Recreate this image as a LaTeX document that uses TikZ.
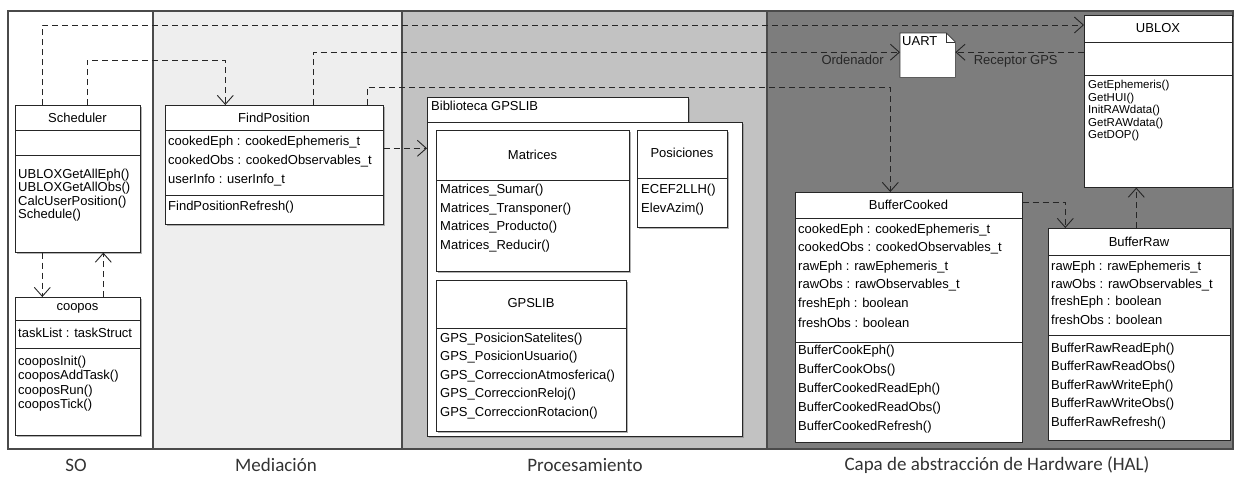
\documentclass[tikz,border=0pt]{standalone}
\usepackage{fontspec}
\setmainfont{Liberation Sans}
\newfontfamily\capfont{Carlito}
\usetikzlibrary{arrows.meta,shadows}

\definecolor{medfill}{HTML}{EEEEEE}
\definecolor{procfill}{HTML}{C2C2C2}
\definecolor{halfill}{HTML}{7D7D7D}
\definecolor{framecol}{HTML}{4A4A4A}

% one line per member, #1 prefix, #2 x, #3 first y, #4 pitch, #5 list
\newcommand{\members}[5]{%
  \foreach \t [count=\i] in {#5}
    \node[member] (#1\i) at (#2,{#3+#4*(\i-1)}) {\t};}

\begin{document}
\begin{tikzpicture}[x=1pt,y=-1pt,font=\fontsize{13}{15}\selectfont]
  \tikzstyle{classbox}=[draw=black!85,fill=white,anchor=north west,inner sep=0pt,line width=0.6pt,
    drop shadow={shadow xshift=1.5pt,shadow yshift=-1.5pt,opacity=.6}]
  \tikzstyle{member}=[anchor=west,inner sep=0pt]
  \tikzstyle{ctitle}=[inner sep=0pt]
  \tikzstyle{cline}=[draw=black!85,line width=0.6pt]
  \tikzstyle{dep}=[draw=black!85,dash pattern=on 6pt off 4pt,line width=0.7pt,
    -{Straight Barb[length=9pt,width=16pt,line width=0.9pt]}]
  \tikzstyle{lbl}=[inner sep=0pt,text=black!85]
  \tikzstyle{layer}=[font=\capfont\fontsize{19}{22}\selectfont,text=black!80]
  \useasboundingbox (0,0) rectangle (1235,480);

  % layers
  \fill[medfill] (153,11) rectangle (402,449);
  \fill[procfill] (402,11) rectangle (767,449);
  \fill[halfill] (767,11) rectangle (1233,449);
  \draw[framecol,line width=1.5pt] (8,11) rectangle (1233,449);
  \foreach \x in {153,402,767} \draw[framecol,line width=1.5pt] (\x,11) -- (\x,449);
  \node[layer] (so) at (76,465) {SO};
  \node[layer] (med) at (276,465) {Mediación};
  \node[layer] (proc) at (585,465) {Procesamiento};
  \node[layer] (hal) at (997,465) {Capa de abstracción de Hardware (HAL)};

  % SO
  \node[classbox,minimum width=125,minimum height=147] (sched) at (15,105) {};
  \draw[cline] (15,130) -- (140,130);
  \draw[cline] (15,155) -- (140,155);
  \node[ctitle] (schedt) at (77.5,117.5) {Scheduler};
  \members{schedm}{18}{175}{13.5}{UBLOXGetAllEph(),UBLOXGetAllObs(),CalcUserPosition(),Schedule()}

  \node[classbox,minimum width=125,minimum height=138] (coopos) at (15,297) {};
  \draw[cline] (15,320) -- (140,320);
  \draw[cline] (15,348) -- (140,348);
  \node[ctitle] (coopost) at (77.5,308.5) {coopos};
  \members{cooposa}{18}{333}{14}{taskList : taskStruct}
  \members{cooposm}{18}{362}{14.5}{cooposInit(),cooposAddTask(),cooposRun(),cooposTick()}

  % Mediacion
  \node[classbox,minimum width=218,minimum height=119] (findpos) at (165,105) {};
  \draw[cline] (165,130) -- (383,130);
  \draw[cline] (165,195) -- (383,195);
  \node[ctitle] (findpost) at (274,117.5) {FindPosition};
  \members{findposa}{168}{142}{19}{cookedEph : cookedEphemeris\_t,cookedObs : cookedObservables\_t,userInfo : userInfo\_t}
  \members{findposm}{168}{207}{19}{FindPositionRefresh()}

  % Procesamiento
  \node[classbox,minimum width=261,minimum height=25] (gpstab) at (427,97) {};
  \node[classbox,minimum width=315,minimum height=314] (gpspkg) at (427,122) {};
  \node[member] (gpstabt) at (431,106) {Biblioteca GPSLIB};

  \node[classbox,line width=0.9pt,minimum width=193,minimum height=141] (matrices) at (436,130) {};
  \draw[cline] (436,180) -- (629,180);
  \node[ctitle] (matricest) at (532.5,155) {Matrices};
  \members{matricesm}{440}{190}{18.7}{Matrices\_Sumar(),Matrices\_Transponer(),Matrices\_Producto(),Matrices\_Reducir()}

  \node[classbox,minimum width=90,minimum height=97] (posic) at (637,130) {};
  \draw[cline] (637,178) -- (727,178);
  \node[ctitle] (posict) at (682,153) {Posiciones};
  \members{posicm}{641}{190}{19}{ECEF2LLH(),ElevAzim()}

  \node[classbox,minimum width=190,minimum height=151] (gpslib) at (436,280) {};
  \draw[cline] (436,328) -- (626,328);
  \node[ctitle] (gpslibt) at (531,303) {GPSLIB};
  \members{gpslibm}{440}{339}{18.5}{GPS\_PosicionSatelites(),GPS\_PosicionUsuario(),GPS\_CorreccionAtmosferica(),GPS\_CorreccionReloj(),GPS\_CorreccionRotacion()}

  % HAL
  \node[anchor=north west,minimum width=55,minimum height=44,inner sep=0pt] (uart) at (900,33) {};
  \draw[fill=white,draw=black!80,line width=0.6pt] (uart.north west) -- ([xshift=-9pt]uart.north east)
    -- ([yshift=-9pt]uart.north east) -- (uart.south east) -- (uart.south west) -- cycle;
  \draw[draw=black!80,line width=0.5pt] ([xshift=-9pt]uart.north east) |- ([yshift=-9pt]uart.north east);
  \node[anchor=north west,inner sep=0pt] (uartt) at ([shift={(2pt,-3pt)}]uart.north west) {UART};

  \node[classbox,minimum width=148,minimum height=172] (ublox) at (1084,15) {};
  \draw[cline] (1084,42) -- (1232,42);
  \draw[cline] (1084,75) -- (1232,75);
  \node[ctitle] (ubloxt) at (1158,28.5) {UBLOX};
  \begin{scope}[font=\fontsize{11.5}{13}\selectfont]
    \members{ubloxm}{1088}{86}{12.5}{GetEphemeris(),GetHUI(),InitRAWdata(),GetRAWdata(),GetDOP()}
  \end{scope}

  \node[classbox,minimum width=227,minimum height=250] (bcooked) at (795,192) {};
  \draw[cline] (795,218) -- (1022,218);
  \draw[cline] (795,342) -- (1022,342);
  \node[ctitle] (bcookedt) at (908.5,205) {BufferCooked};
  \members{bcookeda}{798}{230}{18.5}{cookedEph : cookedEphemeris\_t,cookedObs : cookedObservables\_t,rawEph : rawEphemeris\_t,rawObs : rawObservables\_t,freshEph : boolean,freshObs : boolean}
  \members{bcookedm}{798}{351}{19}{BufferCookEph(),BufferCookObs(),BufferCookedReadEph(),BufferCookedReadObs(),BufferCookedRefresh()}

  \node[classbox,minimum width=182,minimum height=212] (braw) at (1048,228) {};
  \draw[cline] (1048,255) -- (1230,255);
  \draw[cline] (1048,335) -- (1230,335);
  \node[ctitle] (brawt) at (1139,241.5) {BufferRaw};
  \members{brawa}{1051}{267}{17.7}{rawEph : rawEphemeris\_t,rawObs : rawObservables\_t,freshEph : boolean,freshObs : boolean}
  \members{brawm}{1051}{349}{18.5}{BufferRawReadEph(),BufferRawReadObs(),BufferRawWriteEph(),BufferRawWriteObs(),BufferRawRefresh()}

  % dependencies
  \draw[dep] ([xshift=-35.5pt]sched.north) |- ([yshift=-10pt]ublox.north west);
  \draw[dep] ([xshift=9.5pt]sched.north) -- ++(0,-45) -| ([xshift=-49pt]findpos.north);
  \draw[dep] ([xshift=-35.5pt]sched.south) -- ([xshift=-35.5pt]coopos.north);
  \draw[dep] ([xshift=25.5pt]coopos.north) -- ([xshift=25.5pt]sched.south);
  \draw[dep] ([xshift=39pt]findpos.north) |- ([yshift=3pt]uart.west)
    node[lbl,pos=1,anchor=north east,xshift=-16pt,yshift=-3pt] {Ordenador};
  \draw[dep] ([xshift=93pt]findpos.north) -- ++(0,-18) -| ([xshift=-18.5pt]bcooked.north);
  \coordinate (fp) at ([yshift=16.5pt]findpos.east);
  \draw[dep] (fp) -- (fp -| gpspkg.west);
  \coordinate (rx) at ([yshift=3pt]uart.east);
  \draw[dep] (rx -| ublox.west) -- (rx)
    node[lbl,pos=0,anchor=north east,xshift=-26pt,yshift=-3pt] {Receptor GPS};
  \draw[dep] ([yshift=-10pt]bcooked.north east) -| ([xshift=-74pt]braw.north);
  \draw[dep] ([xshift=-3pt]braw.north) -- ([xshift=-22pt]ublox.south);
\end{tikzpicture}
\end{document}
